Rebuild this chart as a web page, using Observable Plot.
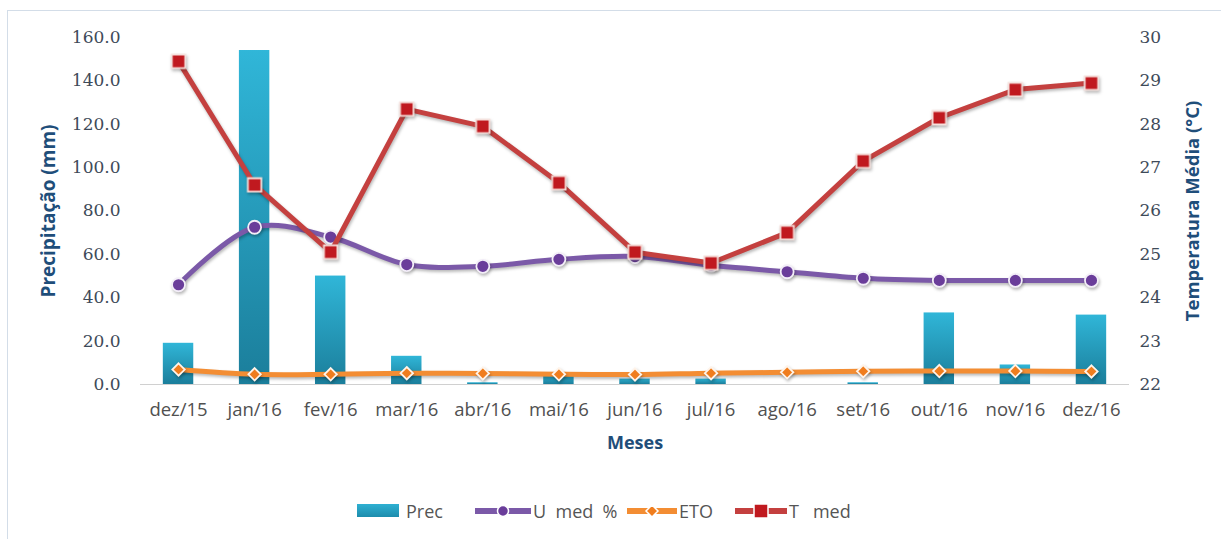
<!DOCTYPE html>
<html>
<head>
<meta charset="utf-8">
<script src="https://cdn.jsdelivr.net/npm/d3@7"></script>
<script src="https://cdn.jsdelivr.net/npm/@observablehq/plot@0.6"></script>
<style>
  html, body { margin: 0; padding: 0; background: #fff; }
  #wrap { position: relative; width: 1221px; height: 539px; overflow: hidden; }
  #frame { position: absolute; left: 7px; top: 10px; width: 1240px; height: 560px; border: 1.5px solid #d3dde8; box-sizing: border-box; }
  #chart { position: absolute; left: 0; top: 0; }
  .leg { position: absolute; font-family: "Liberation Sans Narrow", "Open Sans", sans-serif; font-size: 18px; color: #555; white-space: pre; line-height: 1; }
  .sw { position: absolute; }
  svg g[aria-label="line"], svg g[aria-label="dot"] { filter: drop-shadow(1px 2px 1.5px rgba(0,0,0,0.28)); }
</style>
</head>
<body>
<div id="wrap">
  <div id="frame"></div>
  <div id="chart"></div>
</div>
<script>
const months = ["dez/15","jan/16","fev/16","mar/16","abr/16","mai/16","jun/16","jul/16","ago/16","set/16","out/16","nov/16","dez/16"];
const prec   = [19, 154, 50, 13, 0.8, 4, 2.5, 2.5, 0, 0.8, 33, 9, 32];
const umed   = [46, 72.5, 68, 55.3, 54.5, 57.7, 59, 55, 52, 49, 48, 48, 48];
const eto    = [6.9, 4.7, 4.7, 5.2, 5.1, 4.7, 4.6, 5.2, 5.6, 6.1, 6.2, 6.2, 6.0];
const tmed   = [29.45, 26.6, 25.05, 28.35, 27.95, 26.65, 25.05, 24.8, 25.5, 27.15, 28.15, 28.8, 28.95];
const leftTicks  = [0, 20, 40, 60, 80, 100, 120, 140, 160];
const rightTicks = [22, 23, 24, 25, 26, 27, 28, 29, 30];

const idx = months.map((_, i) => i);
// secondary axis (22..30 °C) aligned to primary (0..160 mm)
const tToY = t => (t - 22) * 20;

const titleFont = "'Open Sans', sans-serif";

const plot = Plot.plot({
  width: 1221,
  height: 470,
  marginLeft: 140,
  marginRight: 92,
  marginTop: 37,
  marginBottom: 86,
  style: {background: "transparent", overflow: "visible"},
  x: {domain: [-0.5, 12.5], axis: null},
  y: {domain: [0, 160], axis: null},
  marks: [
    Plot.ruleY([0], {stroke: "#d0d0d0", strokeWidth: 1.2}),
    Plot.axisY({
      anchor: "left", ticks: leftTicks, tickSize: 0, tickPadding: 20,
      tickFormat: d => d.toFixed(1), label: null,
      fontSize: 17, fontFamily: "'DejaVu Serif', serif", fill: "#3e4a59"
    }),
    Plot.axisY({
      anchor: "right", ticks: rightTicks.map(tToY), tickSize: 0, tickPadding: 10,
      tickFormat: d => String(Math.round(22 + d / 20)), label: null,
      fontSize: 17, fontFamily: "'DejaVu Serif', serif", fill: "#3e4a59"
    }),
    Plot.axisX({
      ticks: idx, tickSize: 0, tickPadding: 18,
      tickFormat: i => months[i], label: null,
      fontSize: 18.5, fontFamily: "'Liberation Sans Narrow', 'Open Sans', sans-serif", fill: "#505050"
    }),
    Plot.text(["Precipitação (mm)"], {
      frameAnchor: "left", textAnchor: "middle", dx: -92, rotate: -90, fontSize: 19, fontWeight: "bold",
      fontFamily: titleFont, fill: "#1f4e7a"
    }),
    Plot.text(["Temperatura Média (°C)"], {
      frameAnchor: "right", textAnchor: "middle", dx: 64, rotate: -90, fontSize: 18.5, fontWeight: "bold",
      fontFamily: titleFont, fill: "#1f4e7a"
    }),
    Plot.text(["Meses"], {
      frameAnchor: "bottom", textAnchor: "middle", dy: 64, fontSize: 18, fontWeight: "bold",
      fontFamily: titleFont, fill: "#1f4e7a"
    }),
    // Prec bars
    Plot.rectY(idx, {
      x1: i => i - 0.2, x2: i => i + 0.2, y1: 0, y2: i => prec[i],
      fill: "url(#barGrad)"
    }),
    // U med %
    Plot.line(idx, {x: i => i, y: i => umed[i], stroke: "#7b59a8", strokeWidth: 5, curve: "catmull-rom"}),
    Plot.dot(idx, {x: i => i, y: i => umed[i], r: 6.5, fill: "#6a3d9a", stroke: "#f3eef8", strokeWidth: 1.8}),
    // ETO
    Plot.line(idx, {x: i => i, y: i => eto[i], stroke: "#f38d33", strokeWidth: 5, curve: "catmull-rom"}),
    Plot.dot(idx, {x: i => i, y: i => eto[i], r: 5.6, symbol: "diamond2", fill: "#f07d1e", stroke: "#fff4ea", strokeWidth: 1.8}),
    // T med (secondary axis)
    Plot.line(idx, {x: i => i, y: i => tToY(tmed[i]), stroke: "#c4403f", strokeWidth: 5}),
    Plot.dot(idx, {x: i => i, y: i => tToY(tmed[i]), r: 7.6, symbol: "square", fill: "#c0191f", stroke: "#f6e0dc", strokeWidth: 1.8})
  ]
});

// gradient for bars
const svg = d3.select(plot);
const defs = svg.insert("defs", ":first-child");
const g = defs.append("linearGradient").attr("id", "barGrad")
  .attr("x1", 0).attr("y1", 0).attr("x2", 0).attr("y2", 1);
g.append("stop").attr("offset", "0%").attr("stop-color", "#30b6d8");
g.append("stop").attr("offset", "100%").attr("stop-color", "#1b7e9b");

document.getElementById("chart").appendChild(plot);

// legend
const wrap = document.getElementById("wrap");
function add(html) { wrap.insertAdjacentHTML("beforeend", html); }
const legY = 504;
add(`<svg class="sw" style="left:357px;top:${legY}px" width="42" height="13"><defs><linearGradient id="lg" x1="0" y1="0" x2="0" y2="1"><stop offset="0" stop-color="#2eb0d2"/><stop offset="1" stop-color="#1d8cac"/></linearGradient></defs><rect x="0" y="0" width="42" height="13" fill="url(#lg)"/></svg>`);
add(`<div class="leg" style="left:406px;top:${legY - 2}px">Prec</div>`);
add(`<svg class="sw" style="left:474px;top:${legY - 2}px" width="58" height="18"><line x1="1" x2="57" y1="9" y2="9" stroke="#7b59a8" stroke-width="6"/><circle cx="29" cy="9" r="5.5" fill="#6a3d9a" stroke="#fff" stroke-width="1.5"/></svg>`);
add(`<div class="leg" style="left:533px;top:${legY - 2}px">U  med  %</div>`);
add(`<svg class="sw" style="left:626px;top:${legY - 2}px" width="52" height="18"><line x1="1" x2="51" y1="9" y2="9" stroke="#f38d33" stroke-width="6"/><path d="M26,3 L32,9 L26,15 L20,9 Z" fill="#f07d1e" stroke="#fff" stroke-width="1.5"/></svg>`);
add(`<div class="leg" style="left:679px;top:${legY - 2}px">ETO</div>`);
add(`<svg class="sw" style="left:734px;top:${legY - 2}px" width="54" height="18"><line x1="1" x2="53" y1="9" y2="9" stroke="#c4403f" stroke-width="6"/><rect x="20" y="2" width="14" height="14" fill="#c0191f" stroke="#fff" stroke-width="1.5"/></svg>`);
add(`<div class="leg" style="left:789px;top:${legY - 2}px">T   med</div>`);
</script>
</body>
</html>
